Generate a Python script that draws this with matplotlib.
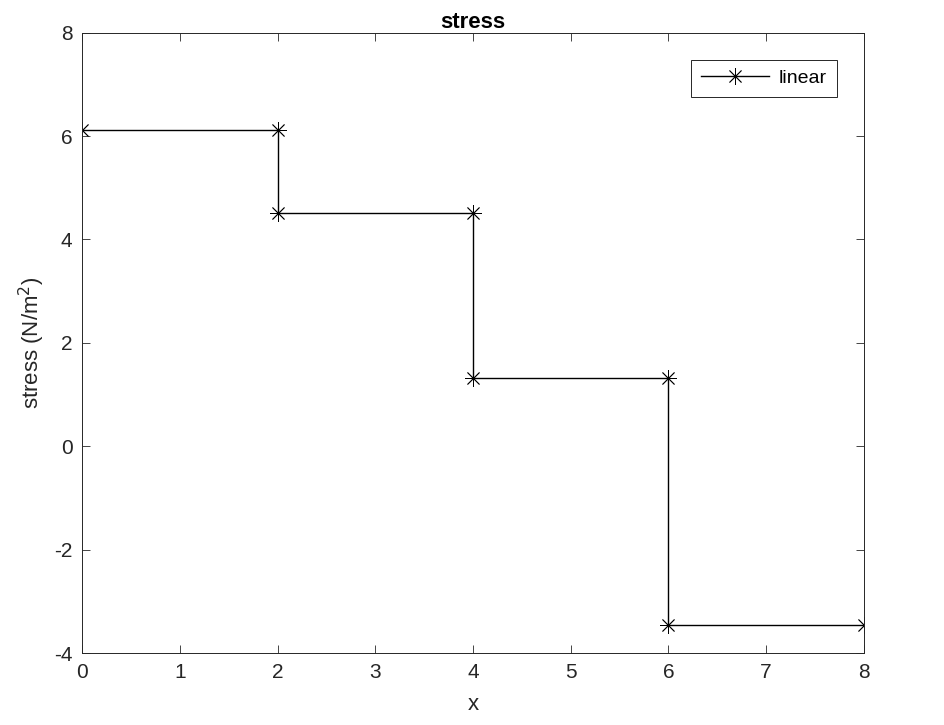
import matplotlib.pyplot as plt
import numpy as np

plt.rcParams['font.family'] = ['Liberation Sans', 'DejaVu Sans']
plt.rcParams['axes.unicode_minus'] = False

# step stress values along x
x = [0, 2, 2, 4, 4, 6, 6, 8]
stress = [6.12, 6.12, 4.52, 4.52, 1.33, 1.33, -3.45, -3.45]
xticks = [0, 1, 2, 3, 4, 5, 6, 7, 8]
yticks = [-4, -2, 0, 2, 4, 6, 8]

fig = plt.figure(figsize=(9.44, 7.25), dpi=100)
ax = fig.add_axes([0.087, 0.099, 0.828, 0.856])

ax.plot(x, stress, color='black', linewidth=1.0, marker=(8, 2, 0), markersize=12,
        markeredgewidth=0.6, label='linear')

ax.set_xlim(0, 8)
ax.set_ylim(-4, 8)
ax.set_xticks(xticks)
ax.set_yticks(yticks)
ax.tick_params(direction='in', top=True, right=True, labelsize=15,
               colors='#262626', length=6, width=0.6, pad=7)
for s in ax.spines.values():
    s.set_color('#262626')
    s.set_linewidth(0.7)

ax.set_xlabel('x', fontsize=16, color='#262626', labelpad=9)
ax.set_ylabel('stress (N/m$^2$)', fontsize=16, color='#262626', labelpad=5)
ax.set_title('stress', fontsize=16, fontweight='bold', color='black', pad=3)

leg = ax.legend(loc='upper right', fontsize=14, fancybox=False, framealpha=1,
                edgecolor='#262626', handlelength=3.5, borderaxespad=1.4,
                borderpad=0.5, handletextpad=0.5)
leg.get_frame().set_linewidth(0.7)

fig.savefig('out.png', dpi=100, facecolor='white')
